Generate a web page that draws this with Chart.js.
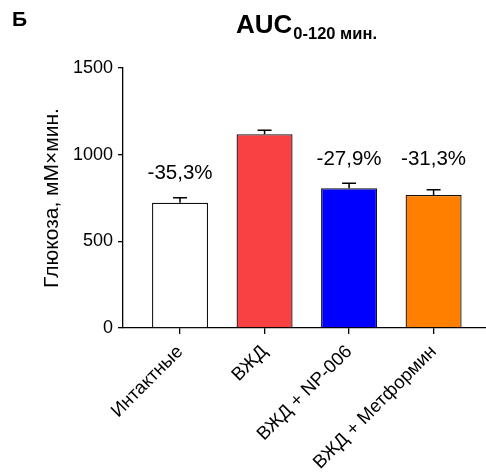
<!DOCTYPE html>
<html>
<head>
<meta charset="utf-8">
<title>AUC 0-120</title>
<script src="https://cdn.jsdelivr.net/npm/chart.js@4.4.1/dist/chart.umd.min.js"></script>
<style>
  html, body { margin: 0; padding: 0; background: #fff; }
</style>
</head>
<body>
<canvas id="myChart" width="486" height="476"></canvas>
<script>
const groups = ['Интактные', 'ВЖД', 'ВЖД + NP-006', 'ВЖД + Метформин'];
const aucMean = [723, 1118, 806, 768];
const aucSem = [28, 23, 29, 29];
const barColors = ['#ffffff', '#f94144', '#0000ff', '#ff8000'];
const yTicks = [0, 500, 1000, 1500];
// % change is given against the ВЖД group
const refGroup = 1;
const showChange = [true, false, true, true];

const FONT = "'Liberation Sans', Arial, sans-serif";
Chart.defaults.font.family = FONT;
Chart.defaults.color = '#000';

const pctLabel = (i) => {
    let d = (aucMean[i] - aucMean[refGroup]) / aucMean[refGroup] * 100;
    return d.toFixed(1).replace('.', ',') + '%';
};

// SEM whiskers + percent labels over the bars
const errorBars = {
    id: 'errorBars',
    afterDatasetsDraw(chart) {
        const ctx = chart.ctx;
        const yScale = chart.scales.y;
        const bars = chart.getDatasetMeta(0).data;
        let caps = [];
        ctx.save();
        ctx.strokeStyle = '#000';
        ctx.lineWidth = 1.5;
        bars.forEach((bar, i) => {
            let top = yScale.getPixelForValue(aucMean[i] + aucSem[i]);
            caps.push(top);
            ctx.beginPath();
            ctx.moveTo(bar.x, bar.y);
            ctx.lineTo(bar.x, top);
            ctx.moveTo(bar.x - 7, top);
            ctx.lineTo(bar.x + 7, top);
            ctx.stroke();
        });

        // neighbouring labels sit on one row
        ctx.fillStyle = '#000';
        ctx.font = '20.5px ' + FONT;
        ctx.textAlign = 'center';
        ctx.textBaseline = 'middle';
        let i = 0;
        while (i < bars.length) {
            if (!showChange[i]) { i++; continue; }
            let j = i;
            let rowTop = caps[i];
            while (j + 1 < bars.length && showChange[j + 1]) {
                j++;
                rowTop = Math.min(rowTop, caps[j]);
            }
            for (let k = i; k <= j; k++) {
                ctx.fillText(pctLabel(k), bars[k].x, rowTop - 24);
            }
            i = j + 1;
        }
        ctx.restore();
    }
};

const heading = {
    id: 'heading',
    afterDraw(chart) {
        const ctx = chart.ctx;
        ctx.save();
        ctx.fillStyle = '#000';
        ctx.textAlign = 'left';
        ctx.textBaseline = 'alphabetic';
        ctx.font = 'bold 21px ' + FONT;
        ctx.fillText('Б', 12, 26);
        ctx.font = 'bold 26px ' + FONT;
        ctx.fillText('AUC', 236, 33);
        let w = ctx.measureText('AUC').width;
        ctx.font = 'bold 16.5px ' + FONT;
        ctx.fillText('0-120 мин.', 236 + w + 1, 38.5);
        ctx.restore();
    }
};

const ctx = document.getElementById('myChart');

new Chart(ctx, {
    type: 'bar',
    data: {
        datasets: [{
            data: aucMean.map((v, i) => ({ x: i + 1, y: v })),
            backgroundColor: barColors,
            borderColor: '#111',
            borderWidth: 1.3,
            barPercentage: 0.663,
            categoryPercentage: 1
        }]
    },
    options: {
        responsive: false,
        animation: false,
        layout: { padding: { top: 68, right: 0, bottom: 0, left: 0 } },
        plugins: {
            legend: { display: false },
            tooltip: { enabled: false }
        },
        scales: {
            x: {
                type: 'linear',
                offset: false,
                min: 0.325,
                max: 4.62,
                afterBuildTicks: (s) => { s.ticks = groups.map((g, i) => ({ value: i + 1 })); },
                ticks: {
                    autoSkip: false,
                    minRotation: 45,
                    maxRotation: 45,
                    padding: 7,
                    color: '#000',
                    font: { size: 18.5 },
                    callback: (v) => groups[v - 1]
                },
                grid: { offset: false, drawOnChartArea: false, tickLength: 6, color: '#000', lineWidth: 1.3 },
                border: { color: '#000', width: 1.3 },
                afterFit: (s) => { s.height = 148; s.paddingLeft = 0; s.paddingRight = 0; }
            },
            y: {
                min: 0,
                max: 1500,
                afterBuildTicks: (s) => { s.ticks = yTicks.map(v => ({ value: v })); },
                ticks: { color: '#000', font: { size: 18 }, padding: 5, callback: (v) => String(v) },
                grid: { drawOnChartArea: false, tickLength: 5, color: '#000', lineWidth: 1.3 },
                border: { color: '#000', width: 1.3 },
                title: {
                    display: true,
                    text: 'Глюкоза, мМ×мин.',
                    color: '#000',
                    font: { size: 21 },
                    padding: { top: 39.5, bottom: 0 }
                },
                afterFit: (s) => { s.width = 123; }
            }
        }
    },
    plugins: [errorBars, heading]
});
</script>
</body>
</html>
